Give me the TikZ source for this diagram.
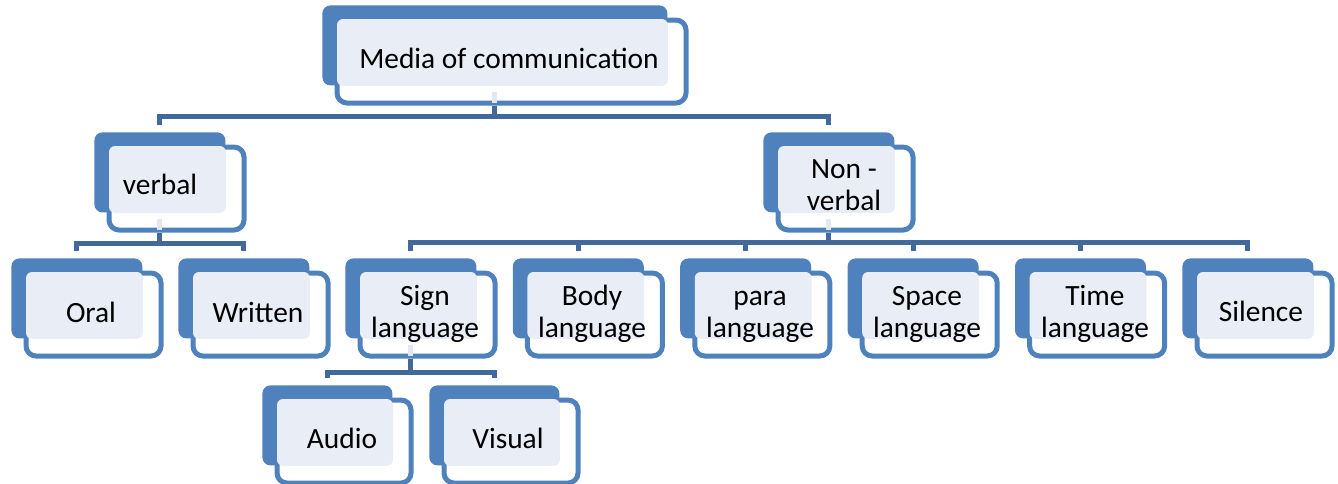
\documentclass[tikz,border=0pt]{standalone}
\usepackage{fontspec}
\setmainfont{Carlito}
\usetikzlibrary{calc}

\definecolor{accent}{HTML}{4F81BD}
\definecolor{linkblue}{HTML}{41699C}
\definecolor{paleblue}{HTML}{E9EEF6}
\definecolor{stubgrey}{HTML}{E2E8F1}

\tikzset{
  darkbox/.style={fill=accent, rounded corners=4pt, anchor=north west,
    inner sep=0pt, minimum height=40pt},
  frontbox/.style={draw=accent, line width=2.5pt, fill=white, rounded corners=5pt,
    anchor=north west, inner sep=0pt, minimum height=41.5pt},
  conn/.style={draw=linkblue, line width=2.5pt},
  stub/.style={draw=stubgrey, line width=2.5pt},
  label/.style={font=\fontsize{14.7}{15.75}\selectfont, align=center,
    anchor=base, inner sep=0pt},
}

% \tierbox{name}{left}{top}{width}: shaded back card, framed front card, pale text panel
\newcommand\tierbox[4]{%
  \node[darkbox, minimum width={#4*0.5pt}] (#1) at (#2,#3) {};
  \node[frontbox, minimum width={(#4+4)*0.5pt}] (#1-w) at ($(#1.north west)+(12.5,12.5)$) {};
  \fill[paleblue, rounded corners=3pt] ($(#1.north west)+(15,14)$) rectangle (#1.south east);
}
% faint continuation of a connector inside a parent's front card
\newcommand\parentstub[1]{%
  \draw[stub] ($(#1.south)+(0,6)$) -- ($(#1.south |- #1-w.south)+(0,-2.5)$);
}

\begin{document}
\begin{tikzpicture}[x=0.5pt, y=-0.5pt]
\useasboundingbox (0,0) rectangle (1338,483);

% cards
\tierbox{top}{322}{5}{345}
\tierbox{verbal}{94}{132}{131}
\tierbox{nonverbal}{763}{132}{131}
\tierbox{oral}{11}{258}{131}
\tierbox{written}{178}{258}{131}
\tierbox{sign}{345}{258}{131}
\tierbox{body}{512.4}{258}{131}
\tierbox{para}{679.8}{258}{131}
\tierbox{space}{847.2}{258}{131}
\tierbox{time}{1014.6}{258}{131}
\tierbox{silence}{1182}{258}{131}
\tierbox{audio}{262}{385}{130}
\tierbox{visual}{429}{385}{130}

\parentstub{top}
\parentstub{verbal}
\parentstub{nonverbal}
\parentstub{sign}

% connectors
\foreach \p/\c/\g in {top/verbal/16, top/nonverbal/16,
    verbal/oral/15, verbal/written/15,
    nonverbal/sign/16, nonverbal/body/16, nonverbal/para/16,
    nonverbal/space/16, nonverbal/time/16, nonverbal/silence/16,
    sign/audio/13, sign/visual/13}{
  \draw[conn] (\p.south |- \p-w.south) |- ($(\c.north)+(0,-\g)$) -- ($(\c.north)+(0,-7)$);
}

% labels (two-line labels are anchored at the baseline of their last line)
\node[label] (t-top) at (509,68) {Media of communication};
\node[label] (t-verbal) at (160,194) {verbal};
\node[label] (t-nonverbal) at (844,210) {Non -\\verbal};
\node[label] (t-oral) at (91,322) {Oral};
\node[label] (t-written) at (258,322) {Written};
\node[label] (t-sign) at (425,337) {Sign\\language};
\node[label] (t-body) at (592,337) {Body\\language};
\node[label] (t-para) at (760,337) {para\\language};
\node[label] (t-space) at (927,337) {Space\\language};
\node[label] (t-time) at (1095,337) {Time\\language};
\node[label] (t-silence) at (1261,321) {Silence};
\node[label] (t-audio) at (342,448) {Audio};
\node[label] (t-visual) at (508,448) {Visual};
\end{tikzpicture}
\end{document}
